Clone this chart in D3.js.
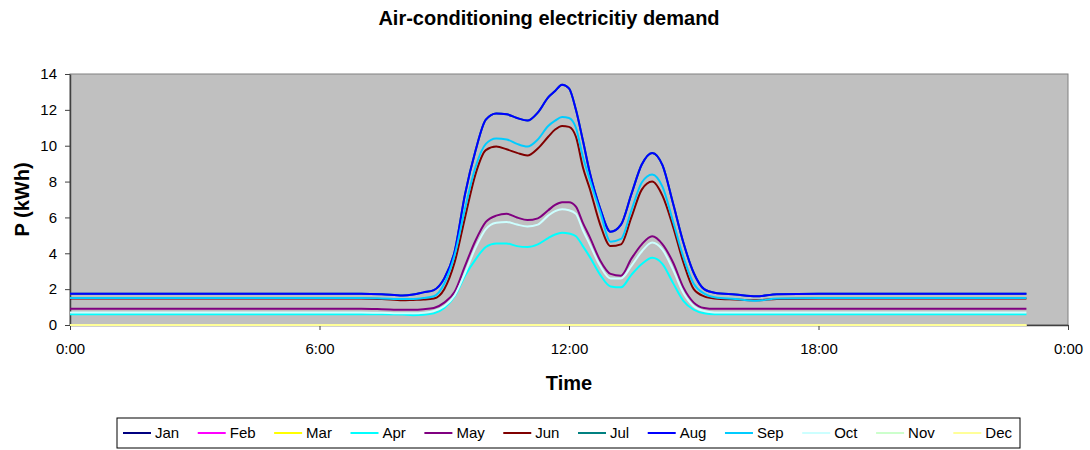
<!DOCTYPE html>
<html>
<head>
<meta charset="utf-8">
<script src="https://cdn.jsdelivr.net/npm/d3@7/dist/d3.min.js"></script>
<style>
  html, body { margin: 0; padding: 0; background: #ffffff; }
  svg { display: block; font-family: "Liberation Sans", Arial, sans-serif; }
</style>
</head>
<body>
<svg id="chart" width="1090" height="450"></svg>
<script>
// Sample times (hh:mm) shared by every month
const times = ["0:00","1:00","2:00","3:00","4:00","5:00","6:00","7:00",
  "7:30","8:00","8:15",
  "8:30","8:45","9:00","9:15","9:30","9:45","10:00","10:15","10:30","10:45","11:00","11:15","11:30",
  "11:40","11:50","12:00","12:10","12:20","12:30",
  "12:45","13:00","13:15","13:30","13:45","14:00","14:15","14:30","14:45","15:00","15:15","15:30",
  "16:00","16:30","17:00",
  "18:00","19:00","20:00","21:00","22:00","23:00"];

// Air-conditioning demand P (kWh) per month at those times
const jan = [0,0,0,0,0,0,0,0, 0,0,0, 0,0,0,0,0,0,0,0,0,0,0,0,0, 0,0,0,0,0,0, 0,0,0,0,0,0,0,0,0,0,0,0, 0,0,0, 0,0,0,0,0,0];
const feb = [0,0,0,0,0,0,0,0, 0,0,0, 0,0,0,0,0,0,0,0,0,0,0,0,0, 0,0,0,0,0,0, 0,0,0,0,0,0,0,0,0,0,0,0, 0,0,0, 0,0,0,0,0,0];
const mar = [0,0,0,0,0,0,0,0, 0,0,0, 0,0,0,0,0,0,0,0,0,0,0,0,0, 0,0,0,0,0,0, 0,0,0,0,0,0,0,0,0,0,0,0, 0,0,0, 0,0,0,0,0,0];
const apr = [0.6,0.6,0.6,0.6,0.6,0.6,0.6,0.6,
  0.6,0.58,0.55,
  0.57,0.65,0.95,1.6,2.75,3.65,4.35,4.55,4.55,4.4,4.35,4.5,4.85,
  5.05,5.15,5.1,4.95,4.4,3.8,
  2.8,2.15,2.1,2.8,3.4,3.75,3.4,2.35,1.35,0.85,0.65,0.6,
  0.6,0.6,0.6,
  0.6,0.6,0.6,0.6,0.6,0.6];
const may = [0.9,0.9,0.9,0.9,0.9,0.9,0.9,0.9,
  0.88,0.85,0.85,
  0.88,0.95,1.25,1.85,3.3,4.7,5.75,6.1,6.2,6.0,5.85,5.95,6.4,
  6.7,6.85,6.85,6.6,5.7,4.9,
  3.6,2.85,2.75,3.7,4.5,4.95,4.5,3.5,2.1,1.25,0.95,0.9,
  0.9,0.9,0.9,
  0.9,0.9,0.9,0.9,0.9,0.9];
const jun = [1.48,1.48,1.48,1.48,1.48,1.48,1.48,1.48,
  1.45,1.38,1.4,
  1.42,1.48,2.0,3.5,6.0,8.4,9.75,9.95,9.8,9.6,9.45,9.85,10.5,
  10.9,11.1,11.05,10.5,8.8,7.6,
  5.6,4.4,4.5,6.0,7.55,8.0,7.2,5.5,3.5,2.0,1.6,1.48,
  1.42,1.38,1.45,
  1.48,1.48,1.48,1.48,1.48,1.48];
const jul = [1.75,1.75,1.75,1.75,1.75,1.75,1.75,1.75,
  1.72,1.65,1.7,
  1.82,1.95,2.6,4.1,7.3,9.7,11.45,11.8,11.75,11.55,11.4,11.85,12.7,
  13.05,13.4,13.2,12.0,10.3,8.5,
  6.5,5.2,5.6,7.3,8.95,9.6,8.9,6.8,4.6,2.9,2.0,1.8,
  1.7,1.6,1.72,
  1.75,1.75,1.75,1.75,1.75,1.75];
const aug = [1.75,1.75,1.75,1.75,1.75,1.75,1.75,1.75,
  1.72,1.65,1.7,
  1.82,1.95,2.6,4.1,7.3,9.7,11.45,11.8,11.75,11.55,11.4,11.85,12.7,
  13.05,13.4,13.2,12.0,10.3,8.5,
  6.5,5.2,5.6,7.3,8.95,9.6,8.9,6.8,4.6,2.9,2.0,1.8,
  1.7,1.6,1.72,
  1.75,1.75,1.75,1.75,1.75,1.75];
const sep = [1.5,1.5,1.5,1.5,1.5,1.5,1.5,1.5,
  1.48,1.45,1.45,
  1.5,1.6,2.3,3.9,6.5,8.8,10.1,10.4,10.35,10.1,9.95,10.35,11.1,
  11.4,11.6,11.55,11.0,9.4,8.1,
  6.3,4.65,4.8,6.4,7.95,8.4,7.7,5.8,3.8,2.3,1.75,1.55,
  1.45,1.35,1.48,
  1.5,1.5,1.5,1.5,1.5,1.5];
const oct = [0.7,0.7,0.7,0.7,0.7,0.7,0.7,0.7,
  0.68,0.65,0.65,
  0.68,0.78,1.05,1.65,2.9,4.3,5.35,5.7,5.75,5.6,5.5,5.6,6.1,
  6.35,6.45,6.4,6.2,5.3,4.5,
  3.3,2.6,2.6,3.3,4.1,4.6,4.2,3.1,1.8,1.05,0.78,0.7,
  0.7,0.7,0.7,
  0.7,0.7,0.7,0.7,0.7,0.7];
const nov = [0,0,0,0,0,0,0,0, 0,0,0, 0,0,0,0,0,0,0,0,0,0,0,0,0, 0,0,0,0,0,0, 0,0,0,0,0,0,0,0,0,0,0,0, 0,0,0, 0,0,0,0,0,0];
const dec = [0,0,0,0,0,0,0,0, 0,0,0, 0,0,0,0,0,0,0,0,0,0,0,0,0, 0,0,0,0,0,0, 0,0,0,0,0,0,0,0,0,0,0,0, 0,0,0, 0,0,0,0,0,0];

const months = ["Jan","Feb","Mar","Apr","May","Jun","Jul","Aug","Sep","Oct","Nov","Dec"];
const monthValues = [jan, feb, mar, apr, may, jun, jul, aug, sep, oct, nov, dec];
const monthColors = ["#000080","#ff00ff","#ffff00","#00ffff","#800080","#800000",
                     "#008080","#0000ff","#00ccff","#ccffff","#ccffcc","#ffff99"];

const xTicks = [0, 6, 12, 18, 24];
const yTicks = [0, 2, 4, 6, 8, 10, 12, 14];

const toHours = s => { const [h, m] = s.split(":").map(Number); return h + m / 60; };
const hours = times.map(toHours);

const svg = d3.select("#chart");
const W = 1090, H = 450;
const plot = { left: 70, right: 1068, top: 74, bottom: 325 };

const x = d3.scaleLinear().domain([0, 24]).range([plot.left, plot.right]);
const y = d3.scaleLinear().domain([0, 14]).range([plot.bottom, plot.top]);

svg.append("rect").attr("width", W).attr("height", H).attr("fill", "#ffffff");

// Title
svg.append("text")
  .attr("x", 549).attr("y", 25)
  .attr("text-anchor", "middle")
  .attr("font-size", 20).attr("font-weight", "bold")
  .text("Air-conditioning electricitiy demand");

// Plot area
svg.append("rect")
  .attr("x", plot.left).attr("y", plot.top)
  .attr("width", plot.right - plot.left).attr("height", plot.bottom - plot.top)
  .attr("fill", "#c0c0c0").attr("stroke", "#808080").attr("stroke-width", 1);

// Axes
const fmtTime = h => `${h % 24}:00`;
const xAxis = d3.axisBottom(x).tickValues(xTicks).tickFormat(fmtTime).tickSizeInner(5).tickSizeOuter(0).tickPadding(13);
const yAxis = d3.axisLeft(y).tickValues(yTicks).tickSizeInner(5).tickSizeOuter(0).tickPadding(8);

const gx = svg.append("g").attr("transform", `translate(0,${plot.bottom})`).call(xAxis);
const gy = svg.append("g").attr("transform", `translate(${plot.left},0)`).call(yAxis);
[gx, gy].forEach(g => {
  g.select(".domain").attr("stroke", "#404040").attr("stroke-width", 1.5);
  g.selectAll(".tick line").attr("stroke", "#404040");
  g.selectAll(".tick text").attr("font-size", 15).attr("fill", "#000")
   .attr("font-family", "'Liberation Sans', Arial, sans-serif");
});

// Axis titles
svg.append("text")
  .attr("x", 569).attr("y", 390)
  .attr("text-anchor", "middle")
  .attr("font-size", 20).attr("font-weight", "bold")
  .text("Time");
svg.append("text")
  .attr("transform", `translate(29,${(plot.top + plot.bottom) / 2}) rotate(-90)`)
  .attr("text-anchor", "middle")
  .attr("font-size", 20).attr("font-weight", "bold")
  .text("P (kWh)");

// Series lines, January first so December draws on top
const line = d3.line()
  .x((d, i) => x(hours[i]))
  .y(d => y(d))
  .curve(d3.curveMonotoneX);

svg.append("g").selectAll("path")
  .data(monthValues)
  .join("path")
  .attr("d", line)
  .attr("fill", "none")
  .attr("stroke", (d, i) => monthColors[i])
  .attr("stroke-width", 2)
  .attr("stroke-linejoin", "round");

// Legend
const legend = { left: 117, top: 418, width: 903, height: 30 };
svg.append("rect")
  .attr("x", legend.left).attr("y", legend.top)
  .attr("width", legend.width).attr("height", legend.height)
  .attr("fill", "#ffffff").attr("stroke", "#000").attr("stroke-width", 1);

const lg = svg.append("g");
const items = lg.selectAll("g").data(months).join("g");
items.append("line")
  .attr("x1", 0).attr("x2", 28).attr("y1", 0).attr("y2", 0)
  .attr("stroke", (d, i) => monthColors[i]).attr("stroke-width", 2);
items.append("text")
  .attr("x", 32).attr("y", 0).attr("dy", "0.35em")
  .attr("font-size", 15)
  .text(d => d);

const lineLen = 32;
const widths = [];
items.each(function () { widths.push(lineLen + this.querySelector("text").getComputedTextLength()); });
const startX = legend.left + 6, endX = legend.left + legend.width - 8;
const gap = (endX - startX - d3.sum(widths)) / (months.length - 1);
let cx = startX;
items.attr("transform", (d, i) => {
  const t = `translate(${cx},${legend.top + legend.height / 2})`;
  cx += widths[i] + gap;
  return t;
});
</script>
</body>
</html>
